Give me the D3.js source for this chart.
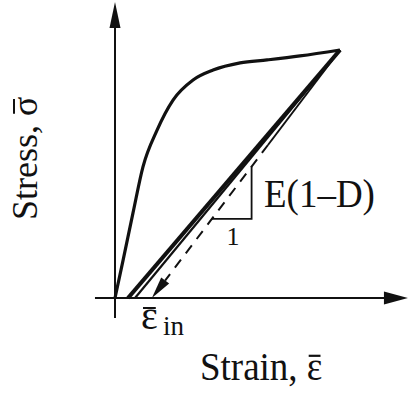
<!DOCTYPE html>
<html><head><meta charset="utf-8">
<script src="https://cdn.jsdelivr.net/npm/d3@7"></script>
<style>html,body{margin:0;padding:0;background:#fff;}svg{display:block;}</style>
</head><body><svg id="c" width="410" height="393"></svg>
<script>
// Normalised strain / stress (peak = 1,1)
const loadStrain = [0, 0.036, 0.08, 0.124, 0.187, 0.258, 0.347, 0.436, 0.556, 0.676, 0.822, 1];
const loadStress = [0, 0.153, 0.343, 0.528, 0.677, 0.798, 0.879, 0.919, 0.948, 0.960, 0.976, 1];
const peak = [1, 1];
const unloadThickEnd = 0.058;   // strain at zero stress
const unloadThinEnd = 0.089;
const inelasticStrain = 0.164;  // dashed unloading end (ε_in)
const dashedSolidUntil = 0.617; // stress where the dashed line turns solid
const triStress = [0.319, 0.53];
const xAxisExtent = [-0.089, 1.302];
const yAxisExtent = [-0.081, 1.194];
const labels = {x: "Strain, ε", y: "Stress, σ", slope: "E(1–D)", run: "1", ein: "ε", sub: "in"};

const svg = d3.select("#c");
const x = d3.scaleLinear().domain([0, 1]).range([115, 340]);
const y = d3.scaleLinear().domain([0, 1]).range([298, 50]);
const ink = "#111";
const font = "'Liberation Serif', 'Times New Roman', serif";

// axes
svg.append("line").attr("x1", x(0)).attr("x2", x(0)).attr("y1", y(yAxisExtent[0])).attr("y2", y(yAxisExtent[1]) + 10)
  .attr("stroke", ink).attr("stroke-width", 2);
svg.append("line").attr("y1", y(0)).attr("y2", y(0)).attr("x1", x(xAxisExtent[0])).attr("x2", x(xAxisExtent[1]) - 10)
  .attr("stroke", ink).attr("stroke-width", 2);
const yt = [x(0), y(yAxisExtent[1])];
svg.append("path").attr("d", `M${yt[0]},${yt[1]} L${yt[0]-5.5},${yt[1]+26} L${yt[0]+5.5},${yt[1]+26} Z`).attr("fill", ink);
const xt = [x(xAxisExtent[1]), y(0)];
svg.append("path").attr("d", `M${xt[0]},${xt[1]} L${xt[0]-24},${xt[1]-6.5} L${xt[0]-24},${xt[1]+6.5} Z`).attr("fill", ink);

// loading curve
const loadPts = loadStrain.map((s, i) => [s, loadStress[i]]);
const line = d3.line().x(d => x(d[0])).y(d => y(d[1])).curve(d3.curveMonotoneX);
svg.append("path").attr("d", line(loadPts)).attr("fill", "none").attr("stroke", ink).attr("stroke-width", 3.2)
  .attr("stroke-linejoin", "round");

// unloading lines
const lin = d3.line().x(d => x(d[0])).y(d => y(d[1]));
svg.append("path").attr("d", lin([peak, [unloadThickEnd, 0]])).attr("stroke", ink).attr("stroke-width", 4.2).attr("fill", "none").attr("stroke-linejoin", "round");
svg.append("path").attr("d", lin([peak, [unloadThinEnd, 0]])).attr("stroke", ink).attr("stroke-width", 2.2).attr("fill", "none");

// dashed unloading with arrow
const dAt = s => inelasticStrain + s * (peak[0] - inelasticStrain);
svg.append("path").attr("d", lin([peak, [dAt(dashedSolidUntil), dashedSolidUntil]])).attr("stroke", ink).attr("stroke-width", 2).attr("fill", "none");
svg.append("path").attr("d", lin([[dAt(dashedSolidUntil), dashedSolidUntil], [dAt(0.07), 0.07]]))
  .attr("stroke", ink).attr("stroke-width", 2).attr("fill", "none").attr("stroke-dasharray", "10,8");
{
  const tip = [x(inelasticStrain), y(0)];
  const dir = [x(peak[0]) - tip[0], y(peak[1]) - tip[1]];
  const L = Math.hypot(dir[0], dir[1]);
  const u = [dir[0]/L, dir[1]/L], n = [-u[1], u[0]];
  const len = 22, hw = 5;
  const b = [tip[0] + u[0]*len, tip[1] + u[1]*len];
  svg.append("path").attr("d", `M${tip[0]},${tip[1]} L${b[0]+n[0]*hw},${b[1]+n[1]*hw} L${b[0]-n[0]*hw},${b[1]-n[1]*hw} Z`).attr("fill", ink);
}

// slope triangle
const tA = [dAt(triStress[0]), triStress[0]];
const tB = [dAt(triStress[1]), triStress[1]];
svg.append("path").attr("d", lin([tA, [tB[0], tA[1]], tB])).attr("fill", "none").attr("stroke", ink).attr("stroke-width", 1.8);

// labels
function overbar(g, textSel, idx, offset) {
  const ext = textSel.node().getExtentOfChar(idx);
  g.append("line").attr("x1", ext.x + ext.width*0.12).attr("x2", ext.x + ext.width*0.88)
    .attr("y1", offset).attr("y2", offset).attr("stroke", ink).attr("stroke-width", 2);
}
svg.append("text").attr("transform", "translate(264,207) scale(1,1.1)").attr("font-family", font).attr("font-size", 37).attr("fill", ink).text(labels.slope);
svg.append("text").attr("x", 233).attr("y", 245).attr("text-anchor", "middle").attr("font-family", font).attr("font-size", 26).attr("fill", ink).text(labels.run);

const gx = svg.append("g").attr("transform", "translate(200,380) scale(1,1.1)");
const tx = gx.append("text").attr("font-family", font).attr("font-size", 37).attr("fill", ink).text(labels.x);
overbar(gx, tx, labels.x.length - 1, -22);

const gy = svg.append("g").attr("transform", "translate(37,220) rotate(-90)");
const ty = gy.append("text").attr("font-family", font).attr("font-size", 36).attr("fill", ink).text(labels.y);
overbar(gy, ty, labels.y.length - 1, -23);

const ge = svg.append("g").attr("transform", "translate(141,329)");
const te = ge.append("text").attr("font-family", font).attr("font-size", 40).attr("fill", ink).text(labels.ein);
overbar(ge, te, 0, -21);
svg.append("text").attr("x", 163).attr("y", 335).attr("font-family", font).attr("font-size", 27).attr("fill", ink).text(labels.sub);
</script></body></html>
